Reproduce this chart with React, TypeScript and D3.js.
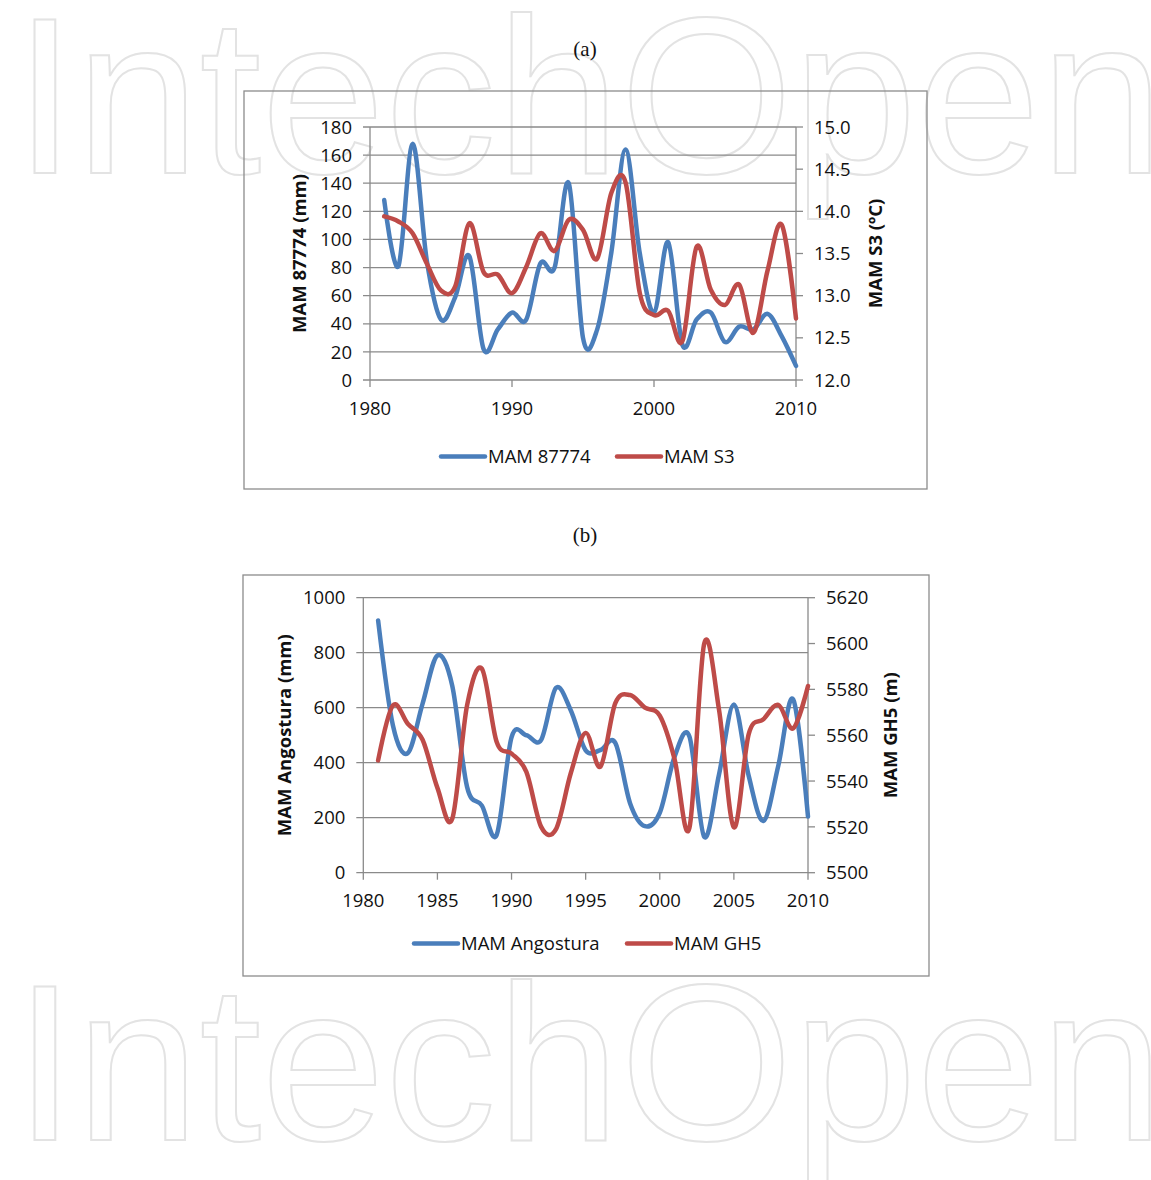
import React from "react";
import * as d3 from "d3";

// ---------- DATA ----------
const years = [1981, 1982, 1983, 1984, 1985, 1986, 1987, 1988, 1989, 1990, 1991, 1992, 1993, 1994, 1995, 1996, 1997, 1998, 1999, 2000, 2001, 2002, 2003, 2004, 2005, 2006, 2007, 2008, 2009, 2010];

const mam87774 = [128, 81, 168, 85, 43, 59, 88, 22, 36, 48, 43, 83, 80, 140, 30, 36, 91, 164, 90, 48, 98, 25, 43, 48, 27, 38, 36, 47, 31, 10];
const mamS3 = [13.94, 13.88, 13.74, 13.38, 13.06, 13.11, 13.86, 13.28, 13.25, 13.03, 13.34, 13.74, 13.53, 13.9, 13.78, 13.44, 14.22, 14.34, 13.03, 12.77, 12.82, 12.46, 13.58, 13.07, 12.89, 13.13, 12.56, 13.3, 13.84, 12.73];

const mamAngostura = [917, 535, 435, 615, 790, 680, 312, 244, 138, 492, 500, 483, 672, 590, 445, 446, 472, 252, 169, 218, 422, 495, 130, 358, 612, 352, 188, 390, 630, 204];
const mamGH5 = [5549, 5573, 5565, 5558, 5537, 5523.5, 5573, 5589, 5557, 5552, 5544, 5520, 5519, 5543.5, 5561, 5546.3, 5574, 5577.5, 5572, 5568.5, 5549.5, 5519.5, 5600, 5571, 5519.8, 5560.5, 5567, 5573.2, 5563, 5581.5];

const xTicksA = [1980, 1990, 2000, 2010];
const leftTicksA = [0, 20, 40, 60, 80, 100, 120, 140, 160, 180];
const rightTicksA = [12.0, 12.5, 13.0, 13.5, 14.0, 14.5, 15.0];

const xTicksB = [1980, 1985, 1990, 1995, 2000, 2005, 2010];
const leftTicksB = [0, 200, 400, 600, 800, 1000];
const rightTicksB = [5500, 5520, 5540, 5560, 5580, 5600, 5620];

// ---------- STYLE ----------
const BLUE = "#4A7EBB";
const RED = "#BE4B48";
const GRID = "#8a8a8a";
const FONT = "'Open Sans', 'DejaVu Sans', sans-serif";

type ChartProps = {
  box: { x: number; y: number; w: number; h: number };
  plot: { l: number; r: number; t: number; b: number };
  xTicks: number[];
  leftTicks: number[];
  rightTicks: number[];
  leftFmt: (v: number) => string;
  rightFmt: (v: number) => string;
  s1: number[];
  s2: number[];
  name1: string;
  name2: string;
  leftTitle: string;
  rightTitle: string;
  leftTitleX: number;
  rightTitleX: number;
  legendY: number;
  legendX1: number;
  legendX2: number;
};

function Chart(p: ChartProps) {
  const x = d3.scaleLinear().domain([p.xTicks[0], p.xTicks[p.xTicks.length - 1]]).range([p.plot.l, p.plot.r]);
  const yL = d3.scaleLinear().domain([p.leftTicks[0], p.leftTicks[p.leftTicks.length - 1]]).range([p.plot.b, p.plot.t]);
  const yR = d3.scaleLinear().domain([p.rightTicks[0], p.rightTicks[p.rightTicks.length - 1]]).range([p.plot.b, p.plot.t]);
  const line1 = d3.line<number>().x((_, i) => x(years[i])).y((d) => yL(d)).curve(d3.curveCardinal.tension(0));
  const line2 = d3.line<number>().x((_, i) => x(years[i])).y((d) => yR(d)).curve(d3.curveCardinal.tension(0));
  const midY = (p.plot.t + p.plot.b) / 2;
  return (
    <g>
      <rect x={p.box.x} y={p.box.y} width={p.box.w} height={p.box.h} fill="none" stroke="#8c8c8c" strokeWidth={1.3} />
      {p.leftTicks.map((t) => (
        <line key={"g" + t} x1={p.plot.l - 7} x2={p.plot.r} y1={yL(t)} y2={yL(t)} stroke={GRID} strokeWidth={1.3} />
      ))}
      <line x1={p.plot.l} x2={p.plot.l} y1={p.plot.t} y2={p.plot.b} stroke={GRID} strokeWidth={1.3} />
      <line x1={p.plot.r} x2={p.plot.r} y1={p.plot.t} y2={p.plot.b} stroke={GRID} strokeWidth={1.3} />
      {p.rightTicks.map((t) => (
        <line key={"rt" + t} x1={p.plot.r} x2={p.plot.r + 7} y1={yR(t)} y2={yR(t)} stroke={GRID} strokeWidth={1.3} />
      ))}
      {p.xTicks.map((t) => (
        <line key={"xt" + t} x1={x(t)} x2={x(t)} y1={p.plot.b} y2={p.plot.b + 7} stroke={GRID} strokeWidth={1.3} />
      ))}
      <g fontFamily={FONT} fontSize={18.5} fill="#111">
        {p.leftTicks.map((t) => (
          <text key={"ll" + t} x={p.plot.l - 18} y={yL(t)} dy="0.36em" textAnchor="end">{p.leftFmt(t)}</text>
        ))}
        {p.rightTicks.map((t) => (
          <text key={"rl" + t} x={p.plot.r + 18} y={yR(t)} dy="0.36em" textAnchor="start">{p.rightFmt(t)}</text>
        ))}
        {p.xTicks.map((t) => (
          <text key={"xl" + t} x={x(t)} y={p.plot.b + 28} dy="0.36em" textAnchor="middle">{String(t)}</text>
        ))}
      </g>
      <g fontFamily={FONT} fontSize={18.5} fontWeight="bold" fill="#111">
        <text transform={`translate(${p.leftTitleX},${midY}) rotate(-90)`} textAnchor="middle" dy="0.36em">{p.leftTitle}</text>
        <text transform={`translate(${p.rightTitleX},${midY}) rotate(-90)`} textAnchor="middle" dy="0.36em">{p.rightTitle}</text>
      </g>
      <path d={line1(p.s1) || ""} fill="none" stroke={BLUE} strokeWidth={4.5} strokeLinecap="round" strokeLinejoin="round" />
      <path d={line2(p.s2) || ""} fill="none" stroke={RED} strokeWidth={4.5} strokeLinecap="round" strokeLinejoin="round" />
      <g fontFamily={FONT} fontSize={18.5} fill="#111">
        <line x1={p.legendX1} x2={p.legendX1 + 44} y1={p.legendY} y2={p.legendY} stroke={BLUE} strokeWidth={4.5} strokeLinecap="round" />
        <text x={p.legendX1 + 47} y={p.legendY} dy="0.36em">{p.name1}</text>
        <line x1={p.legendX2} x2={p.legendX2 + 44} y1={p.legendY} y2={p.legendY} stroke={RED} strokeWidth={4.5} strokeLinecap="round" />
        <text x={p.legendX2 + 47} y={p.legendY} dy="0.36em">{p.name2}</text>
      </g>
    </g>
  );
}

function Watermark({ baseline }: { baseline: number }) {
  return (
    <text x={14} y={baseline} fontFamily="'Liberation Sans', Arial, sans-serif" fontSize={223} textLength={1150} lengthAdjust="spacingAndGlyphs" fill="none" stroke="#e3e3e3" strokeWidth={2}>
      IntechOpen
    </text>
  );
}

export default function App() {
  return (
    <svg width={1151} height={1180} viewBox="0 0 1151 1180" style={{ position: "absolute", left: 0, top: 0, background: "#fff" }}>
      <Watermark baseline={173} />
      <Watermark baseline={1140} />
      <text x={585} y={56} textAnchor="middle" fontFamily="'Liberation Serif', 'DejaVu Serif', serif" fontSize={21} fill="#111">(a)</text>
      <text x={585} y={542} textAnchor="middle" fontFamily="'Liberation Serif', 'DejaVu Serif', serif" fontSize={21} fill="#111">(b)</text>
      <Chart
        box={{ x: 244, y: 91, w: 683, h: 398 }}
        plot={{ l: 370, r: 796, t: 127, b: 380 }}
        xTicks={xTicksA}
        leftTicks={leftTicksA}
        rightTicks={rightTicksA}
        leftFmt={(v) => String(v)}
        rightFmt={(v) => v.toFixed(1)}
        s1={mam87774}
        s2={mamS3}
        name1="MAM 87774"
        name2="MAM S3"
        leftTitle="MAM 87774 (mm)"
        rightTitle="MAM S3 (ºC)"
        leftTitleX={299}
        rightTitleX={875}
        legendY={456.5}
        legendX1={441}
        legendX2={617}
      />
      <Chart
        box={{ x: 243, y: 575, w: 686, h: 401 }}
        plot={{ l: 363.3, r: 808, t: 597.7, b: 872.7 }}
        xTicks={xTicksB}
        leftTicks={leftTicksB}
        rightTicks={rightTicksB}
        leftFmt={(v) => String(v)}
        rightFmt={(v) => String(v)}
        s1={mamAngostura}
        s2={mamGH5}
        name1="MAM Angostura"
        name2="MAM GH5"
        leftTitle="MAM Angostura (mm)"
        rightTitle="MAM GH5 (m)"
        leftTitleX={284}
        rightTitleX={890}
        legendY={943.5}
        legendX1={414}
        legendX2={627}
      />
    </svg>
  );
}
